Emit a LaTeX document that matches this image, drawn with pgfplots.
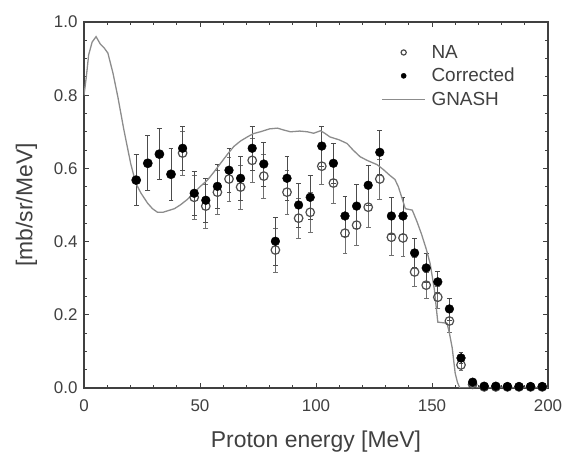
\documentclass[border=0pt]{standalone}
\usepackage{pgfplots}
\pgfplotsset{compat=1.18}
\usepackage{pgfplotstable}
\usepackage{fontspec}
\setmainfont{Liberation Sans}
\definecolor{axgray}{gray}{0.25}
\definecolor{curvegray}{gray}{0.55}
\definecolor{opengray}{gray}{0.3}

\pgfplotstableread{
x y e
22.5 0.568 0.07
27.5 0.614 0.075
32.5 0.639 0.07
37.5 0.584 0.07
42.5 0.642 0.06
47.5 0.521 0.06
52.5 0.497 0.06
57.5 0.535 0.06
62.5 0.571 0.06
67.5 0.549 0.06
72.5 0.622 0.06
77.5 0.579 0.06
82.5 0.377 0.06
87.5 0.535 0.06
92.5 0.464 0.055
97.5 0.480 0.055
102.5 0.606 0.05
107.5 0.560 0.055
112.5 0.423 0.055
117.5 0.445 0.055
122.5 0.494 0.055
127.5 0.571 0.055
132.5 0.412 0.05
137.5 0.410 0.05
142.5 0.317 0.04
147.5 0.281 0.035
152.5 0.248 0.03
157.5 0.183 0.03
162.5 0.063 0.015
167.5 0.010 0.005
172.5 0.003 0.002
177.5 0.003 0.002
182.5 0.003 0.002
187.5 0.003 0.002
192.5 0.003 0.002
197.5 0.003 0.002
}\natable

\pgfplotstableread{
x y e
22.5 0.568 0.07
27.5 0.614 0.075
32.5 0.639 0.07
37.5 0.584 0.07
42.5 0.655 0.06
47.5 0.532 0.06
52.5 0.513 0.06
57.5 0.551 0.06
62.5 0.595 0.06
67.5 0.573 0.06
72.5 0.655 0.06
77.5 0.612 0.06
82.5 0.401 0.065
87.5 0.573 0.06
92.5 0.500 0.06
97.5 0.521 0.06
102.5 0.661 0.055
107.5 0.614 0.055
112.5 0.470 0.055
117.5 0.497 0.06
122.5 0.554 0.055
127.5 0.644 0.06
132.5 0.470 0.05
137.5 0.470 0.05
142.5 0.369 0.04
147.5 0.328 0.04
152.5 0.290 0.03
157.5 0.216 0.03
162.5 0.082 0.015
167.5 0.016 0.006
172.5 0.005 0.002
177.5 0.005 0.002
182.5 0.004 0.002
187.5 0.004 0.002
192.5 0.004 0.002
197.5 0.004 0.002
}\cortable

\pgfplotstableread{
x y
0 0.80
1 0.85
2 0.91
3.5 0.945
5.2 0.96
7 0.94
8.6 0.93
10.3 0.915
12.5 0.86
14.6 0.795
17.2 0.705
20.1 0.614
22.3 0.56
24.5 0.533
27.4 0.505
29.5 0.49
31.7 0.48
34 0.48
36 0.484
39 0.49
41.7 0.501
44.5 0.515
47.3 0.532
50 0.55
53.2 0.568
56 0.59
59 0.615
62 0.64
64.6 0.66
67.5 0.675
70.4 0.686
73 0.695
76 0.70
80 0.708
83.4 0.71
86 0.705
89 0.70
93 0.702
96.3 0.70
99 0.696
102 0.703
104 0.695
106 0.686
110 0.678
113.4 0.668
116 0.65
119 0.632
122 0.622
126.4 0.61
129 0.597
132 0.58
134 0.57
135.5 0.55
137 0.52
138.5 0.49
141.5 0.486
143.5 0.455
145.5 0.42
147.5 0.38
149.2 0.34
151 0.27
152.5 0.18
156.5 0.177
157.5 0.15
158.7 0.11
160 0.04
161 0.015
162 0.0
200 0.0
}\gnashtable

\begin{document}
\begin{tikzpicture}
\path[use as bounding box] (-84bp,-64bp) rectangle (480bp,388bp);
\begin{axis}[
  at={(0,0)}, anchor=south west,
  scale only axis,
  width=464bp, height=366bp,
  xmin=0, xmax=200, ymin=0, ymax=1,
  xtick={0,50,100,150,200},
  ytick={0,0.2,0.4,0.6,0.8,1.0},
  minor x tick num=4,
  minor y tick num=3,
  tick align=inside,
  xtick pos=both, ytick pos=both,
  major tick length=5bp, minor tick length=3bp,
  axis line style={axgray, line width=1.1pt},
  every tick/.style={axgray, line width=0.8pt},
  yticklabel style={/pgf/number format/fixed, /pgf/number format/fixed zerofill, /pgf/number format/precision=1},
  /pgf/number format/assume math mode=true,
  ticklabel style={font=\fontsize{17}{20}\selectfont, text=axgray},
  xticklabel style={yshift=-8bp},
  yticklabel style={xshift=-3bp},
  xlabel={Proton energy [MeV]},
  ylabel={[mb/sr/MeV]},
  label style={font=\fontsize{23}{26}\selectfont, text=axgray},
  xlabel style={yshift=-13bp},
  ylabel style={yshift=10bp},
  legend image code/.code={\draw[mark repeat=2,mark phase=2,#1] plot coordinates {(0cm,0cm) (0.75cm,0cm) (1.5cm,0cm)};},
  legend image post style={mark size=2.6pt},
  legend style={at={(axis description cs:0.637,0.948)}, anchor=north west, draw=none, fill=none,
    font=\fontsize{19}{22}\selectfont, text=axgray, row sep=4.5bp, inner sep=2bp,
    nodes={inner xsep=6bp}},
  legend cell align=left,
]
\addplot[only marks, mark=o, mark size=4.3pt, opengray, mark options={line width=1.2pt, opengray},
  error bars/.cd, y dir=both, y explicit,
  error bar style={opengray!80, line width=0.7pt},
  error mark options={rotate=90, mark size=2.5pt, opengray!80, line width=0.7pt}]
  table[x=x, y=y, y error=e]{\natable};
\addlegendentry{NA}
\addplot[only marks, mark=*, mark size=4.4pt, black, mark options={black},
  error bars/.cd, y dir=both, y explicit,
  error bar style={black!70, line width=0.7pt},
  error mark options={rotate=90, mark size=2.5pt, black!70, line width=0.7pt}]
  table[x=x, y=y, y error=e]{\cortable};
\addlegendentry{Corrected}
\addplot[curvegray, line width=1.3pt, no marks] table[x=x, y=y]{\gnashtable};
\addlegendentry{GNASH}
\end{axis}
\end{tikzpicture}
\end{document}
